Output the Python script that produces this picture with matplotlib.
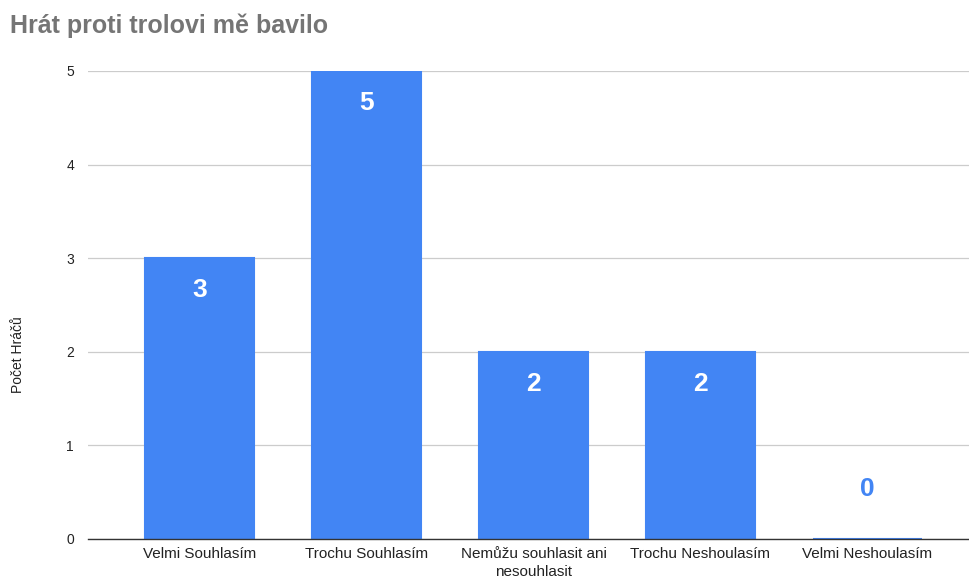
import numpy as np
import matplotlib.pyplot as plt

categories = ["Velmi Souhlasím", "Trochu Souhlasím", "Nemůžu souhlasit ani\nnesouhlasit",
              "Trochu Neshoulasím", "Velmi Neshoulasím"]
counts = [3, 5, 2, 2, 0]

plt.rcParams['font.family'] = ['Liberation Sans', 'DejaVu Sans']

fig = plt.figure(figsize=(9.69, 5.78), dpi=100)
ax = fig.add_axes([88 / 969, 1 - 539 / 578, 1 - 88 / 969, (539 - 71) / 578])

x = np.arange(len(categories))
blue = "#4285F4"
ax.bar(x, counts, width=0.655, color=blue, edgecolor=blue, linewidth=1.5, zorder=3)

for xi, v in zip(x, counts):
    if v > 0:
        ax.annotate(str(v), (xi, v), xytext=(0, -23), textcoords="offset points",
                    ha="center", va="center", color="white", fontsize=19,
                    fontweight="bold", zorder=4)
    else:
        ax.annotate(str(v), (xi, v), xytext=(0, 36), textcoords="offset points",
                    ha="center", va="center", color=blue, fontsize=19,
                    fontweight="bold", zorder=4)

ax.set_xlim(-0.668, 4.608)
ax.set_ylim(0, 5)
ax.set_yticks(range(6))
ax.set_xticks(x)
ax.set_xticklabels(categories, fontsize=11, color="#222222", linespacing=1.3)
ax.tick_params(axis="y", labelsize=10, colors="#222222", length=0, pad=10)
ax.tick_params(axis="x", length=0, pad=6)
ax.grid(axis="y", color="#cccccc", linewidth=0.9, zorder=0)
for s in ["top", "right", "left"]:
    ax.spines[s].set_visible(False)
ax.spines["bottom"].set_color("#333333")
ax.spines["bottom"].set_linewidth(1.0)
ax.spines["bottom"].set_zorder(5)

fig.text(18 / 969, 1 - 355 / 578, "Počet Hráčů", rotation=90, ha="center", va="center",
         fontsize=10, color="#222222")
fig.text(10 / 969, 1 - 26 / 578, "Hrát proti trolovi mě bavilo", ha="left", va="center",
         fontsize=18, fontweight="bold", color="#757575")

fig.savefig("out.png", dpi=100)
